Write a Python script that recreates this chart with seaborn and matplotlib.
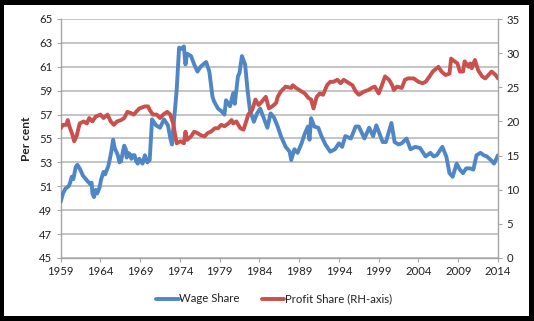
import matplotlib
matplotlib.use("Agg")
import matplotlib.pyplot as plt
import seaborn as sns
import pandas as pd
from matplotlib.patches import Rectangle
from matplotlib.lines import Line2D

wage_years = [1959.0, 1959.3, 1959.6, 1960.0, 1960.2, 1960.4, 1960.6, 1960.9, 1961.1, 1961.4,
              1961.8, 1962.3, 1962.7, 1962.9, 1963.0, 1963.2, 1963.4, 1963.6, 1963.9, 1964.1,
              1964.4, 1964.6, 1965.0, 1965.2, 1965.4, 1965.6, 1965.8, 1966.2, 1966.4, 1966.6,
              1966.8, 1967.0, 1967.2, 1967.3, 1967.5, 1967.7, 1967.9, 1968.1, 1968.3, 1968.5,
              1968.7, 1968.9, 1969.1, 1969.3, 1969.6, 1969.9, 1970.2, 1970.5, 1971.0, 1971.5,
              1972.0, 1972.5, 1972.8, 1973.0, 1973.2, 1973.6, 1973.9, 1974.2, 1974.5, 1974.7,
              1974.9, 1975.4, 1975.8, 1976.2, 1976.6, 1977.1, 1977.3, 1977.7, 1978.1, 1978.3,
              1978.8, 1979.2, 1979.6, 1979.8, 1980.3, 1980.7, 1980.9, 1981.3, 1981.5, 1981.8,
              1982.2, 1982.5, 1982.8, 1983.3, 1983.7, 1984.1, 1984.6, 1985.0, 1985.4, 1985.8,
              1986.3, 1986.7, 1987.3, 1987.8, 1988.0, 1988.4, 1988.8, 1989.3, 1989.7, 1990.1,
              1990.3, 1990.5, 1990.9, 1991.4, 1991.8, 1992.3, 1992.9, 1993.5, 1994.0, 1994.4,
              1994.8, 1995.5, 1996.1, 1996.5, 1997.2, 1997.8, 1998.3, 1998.7, 1999.1, 1999.5,
              1999.9, 2000.6, 2001.0, 2001.5, 2001.9, 2002.5, 2003.0, 2003.6, 2004.2, 2004.9,
              2005.5, 2005.9, 2006.3, 2007.0, 2007.5, 2007.9, 2008.3, 2008.8, 2009.2, 2009.6,
              2010.0, 2010.5, 2010.9, 2011.3, 2011.8, 2012.2, 2012.6, 2013.1, 2013.5, 2014.0]
wage_share = [49.7, 50.4, 50.8, 51.0, 51.3, 51.8, 51.6, 52.6, 52.8, 52.5,
              51.9, 51.5, 51.2, 51.3, 50.4, 50.1, 50.7, 50.4, 50.9, 51.6,
              52.2, 52.0, 52.7, 53.3, 54.0, 54.9, 54.2, 53.6, 53.0, 53.1,
              53.8, 54.4, 54.1, 53.4, 53.8, 53.7, 53.3, 53.6, 53.6, 53.1,
              52.9, 53.3, 53.1, 52.9, 53.6, 53.0, 53.2, 56.6, 56.1, 55.9,
              56.6, 56.1, 55.0, 54.5, 56.0, 59.1, 62.6, 62.5, 62.7, 61.2,
              62.1, 61.9, 61.2, 60.6, 61.0, 61.3, 61.4, 60.6, 58.5, 58.1,
              57.5, 57.3, 57.0, 58.2, 57.7, 58.8, 57.9, 60.2, 60.5, 61.9,
              61.2, 59.1, 57.4, 56.4, 57.1, 57.5, 56.6, 55.9, 57.1, 56.8,
              56.0, 55.2, 54.3, 53.9, 53.2, 54.1, 53.8, 54.6, 55.4, 56.0,
              54.9, 56.7, 56.0, 55.9, 55.2, 54.5, 53.9, 54.1, 54.6, 54.3,
              55.2, 55.0, 56.0, 56.0, 55.0, 55.9, 55.2, 56.1, 55.4, 54.7,
              54.7, 56.3, 54.7, 54.5, 54.6, 55.0, 54.1, 54.3, 54.2, 53.5,
              53.8, 53.5, 53.6, 54.3, 53.5, 52.1, 51.8, 52.9, 52.4, 52.1,
              52.5, 52.5, 52.4, 53.6, 53.8, 53.6, 53.5, 53.2, 52.9, 53.6]

profit_years = [1959.0, 1959.3, 1959.7, 1959.9, 1960.1, 1960.5, 1960.7, 1961.0, 1961.4, 1961.9,
                1962.3, 1962.6, 1963.0, 1963.4, 1964.0, 1964.4, 1964.9, 1965.3, 1965.7, 1966.1,
                1966.6, 1967.0, 1967.4, 1967.9, 1968.2, 1968.5, 1968.9, 1969.6, 1970.0, 1970.2,
                1970.6, 1971.1, 1971.5, 1971.9, 1972.4, 1972.8, 1973.2, 1973.4, 1973.6, 1974.1,
                1974.5, 1974.7, 1974.9, 1975.4, 1975.8, 1976.2, 1976.6, 1977.1, 1977.5, 1977.9,
                1978.4, 1978.8, 1979.2, 1979.6, 1980.1, 1980.5, 1980.7, 1981.1, 1981.6, 1982.0,
                1982.2, 1982.6, 1983.1, 1983.5, 1983.9, 1984.3, 1984.8, 1985.2, 1985.6, 1986.1,
                1986.3, 1986.7, 1987.3, 1988.0, 1988.2, 1988.6, 1989.3, 1989.7, 1990.2, 1990.5,
                1990.8, 1991.2, 1991.6, 1992.0, 1992.5, 1992.9, 1993.3, 1993.8, 1994.2, 1994.6,
                1995.0, 1995.7, 1996.1, 1996.5, 1997.2, 1997.7, 1998.1, 1998.5, 1999.0, 1999.4,
                1999.8, 2000.3, 2000.7, 2000.9, 2001.3, 2001.9, 2002.3, 2002.7, 2003.4, 2004.0,
                2004.5, 2004.9, 2005.4, 2005.8, 2006.5, 2006.9, 2007.4, 2007.9, 2008.1, 2008.3,
                2008.9, 2009.2, 2009.6, 2009.8, 2010.3, 2010.5, 2010.7, 2011.1, 2011.5, 2012.0,
                2012.4, 2012.8, 2013.2, 2013.7, 2014.0]
profit_share = [19.0, 19.5, 19.5, 20.2, 19.3, 18.0, 17.1, 17.8, 19.7, 20.0,
                19.7, 20.5, 20.0, 20.7, 21.0, 20.5, 21.0, 20.0, 19.5, 20.0,
                20.2, 20.5, 21.4, 21.2, 21.0, 21.4, 21.9, 22.2, 22.2, 21.7,
                21.0, 21.0, 20.5, 21.0, 21.4, 21.0, 19.5, 18.0, 16.8, 17.1,
                16.8, 18.5, 17.3, 17.8, 18.5, 18.3, 18.0, 17.8, 18.3, 18.5,
                19.0, 19.0, 19.5, 19.3, 19.7, 20.2, 19.7, 20.0, 19.0, 18.8,
                19.5, 21.0, 21.7, 23.2, 22.4, 22.9, 23.6, 21.9, 22.2, 22.7,
                23.6, 24.4, 25.1, 24.9, 25.3, 24.9, 24.4, 24.1, 23.4, 23.2,
                21.9, 23.6, 24.1, 23.9, 25.3, 25.8, 25.8, 26.1, 25.6, 26.1,
                25.8, 25.3, 24.4, 23.9, 24.4, 24.6, 24.9, 25.1, 24.1, 25.3,
                26.6, 26.1, 25.3, 24.6, 25.1, 24.9, 26.1, 26.3, 26.3, 25.8,
                25.6, 25.8, 26.6, 27.3, 28.0, 27.3, 26.8, 27.0, 29.2, 29.0,
                28.5, 27.3, 27.3, 28.8, 28.0, 28.5, 27.8, 29.0, 27.5, 26.6,
                26.3, 26.8, 27.3, 26.8, 26.3]

left_ticks = [45, 47, 49, 51, 53, 55, 57, 59, 61, 63, 65]
right_ticks = [0, 5, 10, 15, 20, 25, 30, 35]
x_ticks = [1959, 1964, 1969, 1974, 1979, 1984, 1989, 1994, 1999, 2004, 2009, 2014]

BLUE = "#4F86C6"
RED = "#C9504C"
GRID = "#BFBFBF"
TXT = "#222222"

sns.set_theme(style="white")
plt.rcParams['font.family'] = ['Lato', 'DejaVu Sans']

fig = plt.figure(figsize=(5.34, 3.21), dpi=100)
fig.patch.set_facecolor("black")
W, H = 534, 321
bg = Rectangle((4 / W, 1 - 316 / H), (529 - 4) / W, (316 - 5) / H,
               transform=fig.transFigure, facecolor="white",
               edgecolor="none", zorder=-10)
fig.add_artist(bg)

ax = fig.add_axes([60.6 / W, 1 - 258 / H, (498 - 60.6) / W, (258 - 19) / H])
ax.set_facecolor("none")
ax2 = ax.twinx()
ax2.set_facecolor("none")

wdf = pd.DataFrame({"year": wage_years, "value": wage_share})
pdf = pd.DataFrame({"year": profit_years, "value": profit_share})

sns.lineplot(data=wdf, x="year", y="value", ax=ax, color=BLUE, lw=2.8, zorder=3)
sns.lineplot(data=pdf, x="year", y="value", ax=ax2, color=RED, lw=2.8, zorder=3)

ax.set_xlim(1959, 2014)
ax.set_ylim(45, 65)
ax2.set_ylim(0, 35)
ax.set_xticks(x_ticks)
ax.set_xticklabels([str(t) for t in x_ticks])
ax.set_yticks(left_ticks)
ax2.set_yticks(right_ticks)

ax.grid(axis="y", color=GRID, lw=1.3)
ax.set_axisbelow(True)
ax2.grid(False)

for a in (ax, ax2):
    for s in a.spines.values():
        s.set_visible(False)
ax.spines["left"].set_visible(True)
ax.spines["bottom"].set_visible(True)
ax2.spines["right"].set_visible(True)
for s in (ax.spines["left"], ax.spines["bottom"], ax2.spines["right"]):
    s.set_color("#A6A6A6")
    s.set_linewidth(1.0)

ax.tick_params(axis="both", which="both", direction="out", length=3, width=0.8,
               color="#A6A6A6", labelsize=8.2, labelcolor=TXT, pad=3)
ax.tick_params(axis="y", left=True, length=3)
ax.tick_params(axis="x", bottom=True)
ax2.tick_params(axis="y", right=True, direction="out", length=3, width=0.8,
                color="#A6A6A6", labelsize=8.2, labelcolor=TXT, pad=3)

ax.set_xlabel("")
ax2.set_ylabel("")
ax.set_ylabel("Per cent", fontsize=8.6, fontweight="bold", color=TXT, labelpad=5)

handles = [Line2D([], [], color=BLUE, lw=2.8), Line2D([], [], color=RED, lw=2.8)]
fig.legend(handles, ["Wage Share", "Profit Share (RH-axis)"], loc="center",
           bbox_to_anchor=(274 / W, 1 - 299 / H), ncol=2, frameon=False,
           fontsize=8.2, handlelength=2.0, handletextpad=0.05, columnspacing=1.9,
           labelcolor=TXT)

fig.savefig("out.png", dpi=100, facecolor=fig.get_facecolor())
